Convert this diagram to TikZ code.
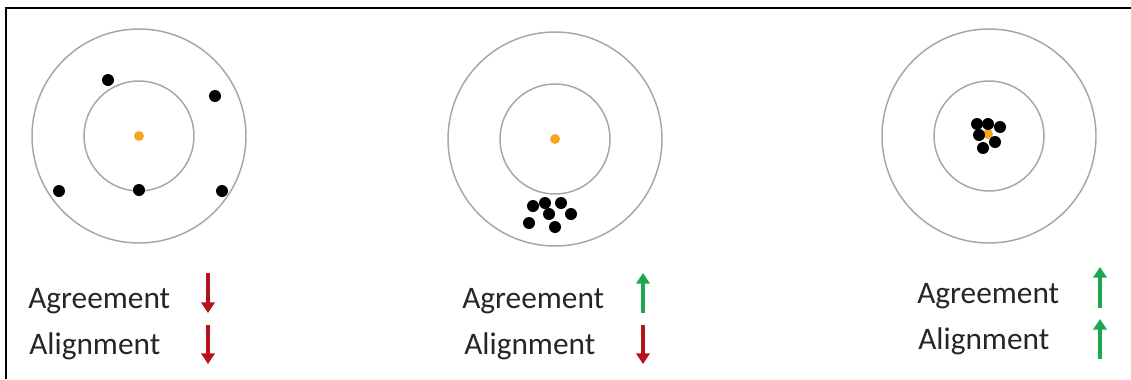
\documentclass[tikz,border=0pt]{standalone}
\usepackage{fontspec}
\setmainfont{Carlito}
\usepackage{xcolor}
\usepackage{tikz}
\usetikzlibrary{arrows.meta,positioning}
\definecolor{ringx}{HTML}{A6A6A6}
\definecolor{goldx}{HTML}{F4A81D}
\definecolor{redx}{HTML}{B3141C}
\definecolor{greenx}{HTML}{1FA650}
\definecolor{inkx}{HTML}{262626}
\tikzset{
  ring/.style={ringx,line width=1.1pt},
  hit/.style={fill=black},
  bull/.style={fill=goldx},
  lbl/.style={anchor=base west,inner sep=0pt,text=inkx,font=\fontsize{23.5}{28}\selectfont},
  dn/.style={-{Triangle[length=8pt,width=10pt]},line width=3.4pt,redx},
  up/.style={-{Triangle[length=8pt,width=10pt]},line width=3.4pt,greenx}
}

\begin{document}
\begin{tikzpicture}[x=0.75pt,y=-0.75pt]
\useasboundingbox (0,0) rectangle (1131,379);
\draw[line width=1.6pt] (6,379)--(6,8)--(1131,8);
% targets
\draw[ring] (139,136) circle (107) (139,136) circle (55);
\draw[ring] (555,139) circle (107) (555,139) circle (55);
\draw[ring] (989,136) circle (107) (989,136) circle (55);
\fill[bull] (139,136) circle (5) (555,139) circle (5) (988,134) circle (5);
% shots
\foreach \p in {(108,80),(215,96),(59,191),(139,190),(222,191)}
  \fill[hit] \p circle (6);
\foreach \p in {(533,206),(545,203),(561,203),(549,214),(571,214),(529,223),(555,227)}
  \fill[hit] \p circle (6);
\foreach \p in {(977,124),(988,124),(1000,127),(979,135),(995,142),(983,148)}
  \fill[hit] \p circle (6);
% labels
\node[lbl] (agr1) at (28,308) {Agreement};
\node[lbl] (ali1) at (29,354) {Alignment};
\node[lbl] (agr2) at (462,308) {Agreement};
\node[lbl] (ali2) at (464,354) {Alignment};
\node[lbl] (agr3) at (917,303) {Agreement};
\node[lbl] (ali3) at (918,349) {Alignment};
% arrows
\coordinate (a1s) at (208,273); \coordinate (a1e) at (208,313);
\coordinate (b1s) at (208,325); \coordinate (b1e) at (208,364);
\coordinate (a2s) at (643,313); \coordinate (a2e) at (643,273);
\coordinate (b2s) at (643,325); \coordinate (b2e) at (643,364);
\coordinate (a3s) at (1100,308); \coordinate (a3e) at (1100,267);
\coordinate (b3s) at (1100,359); \coordinate (b3e) at (1100,319);
\draw[dn] (a1s)--(a1e);
\draw[dn] (b1s)--(b1e);
\draw[up] (a2s)--(a2e);
\draw[dn] (b2s)--(b2e);
\draw[up] (a3s)--(a3e);
\draw[up] (b3s)--(b3e);
\end{tikzpicture}
\end{document}
